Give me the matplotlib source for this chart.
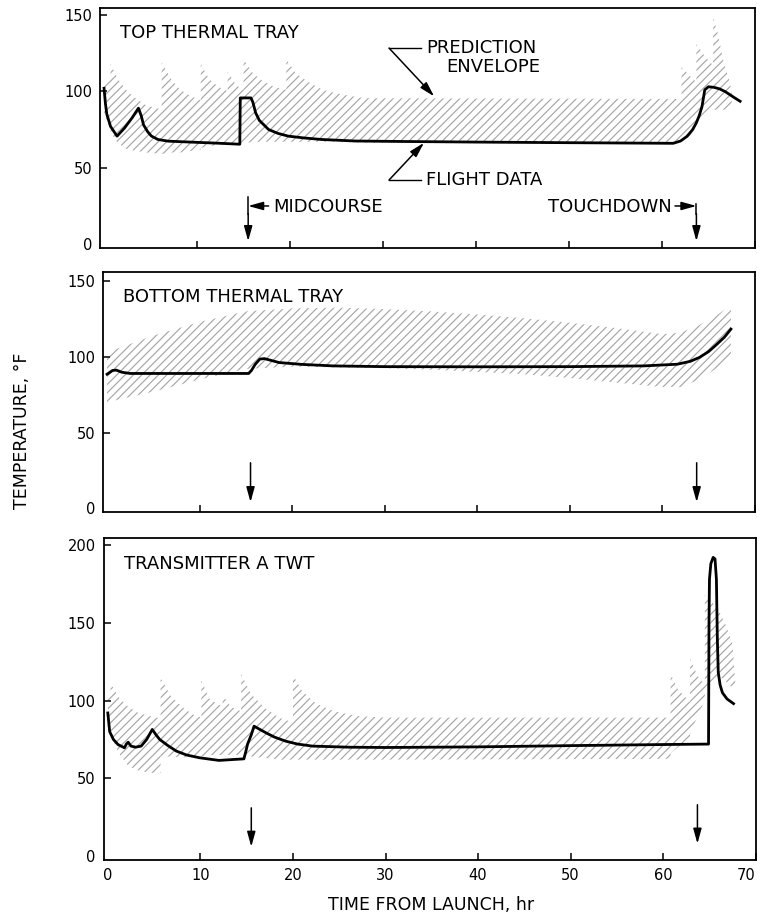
"""Thermal trays and TWT: flight data against prediction envelope."""
import matplotlib
matplotlib.use('Agg')
import matplotlib.pyplot as plt

# --- top thermal tray ---
TOP_T = [0, 0.15, 0.3, 0.7, 1.4, 2.2, 3.0, 3.7, 4.0, 4.25, 4.7, 5.1, 5.8, 6.9, 8.5,
         10.5, 12.5, 14.6, 14.65, 15.8, 16.0, 16.3, 16.7, 17.7, 18.7, 19.8, 21.5, 23.4,
         27, 32, 40, 50, 61.2, 62.0, 62.7, 63.3, 63.7, 64.0, 64.3, 64.6, 65.0, 65.6,
         66.2, 66.8, 67.3, 67.8, 68.4]
TOP_V = [102, 92, 85, 77, 70.7, 76, 82.5, 89, 84, 78, 73.5, 70.7, 68.5, 67.4, 67,
         66.5, 66, 65.4, 95.7, 95.7, 93, 86, 81, 75, 72.5, 70.7, 69.5, 68.5,
         67.5, 67.2, 66.8, 66.4, 66, 67.5, 70.6, 75, 79.5, 84, 90, 101, 103, 102.6,
         101.6, 99.8, 97.8, 95.8, 93.5]
TOP_ENV_T = [0, 0.7, 0.7, 1.5, 2.5, 3.5, 4.5, 6.2, 6.2, 7.2, 8.2, 9.3, 10.4, 10.4, 11.3,
             12.3, 13.3, 13.3, 14.2, 15.0, 15.0, 16.0, 17.0, 18.3, 19.6, 19.6, 20.6, 22.0,
             23.5, 25.5, 28.0, 61.3, 62.1, 62.1, 63.0, 63.7, 63.7, 64.6, 65.5, 65.5,
             66.0, 66.6, 67.2, 67.5]
TOP_ENV_HI = [106, 108, 118, 108, 100, 95, 91, 88, 119, 108, 101, 97, 94, 118, 108,
              103, 100, 113, 104, 101, 121, 112, 107, 103, 101, 121, 112, 106,
              101, 98, 95.5, 95, 95, 116, 110, 106, 131, 123, 117, 148,
              138, 120, 108, 100]
TOP_ENV_LO = [85, 75, 73, 66, 62, 61, 60, 59, 59, 60, 60, 61, 62, 63, 64,
              65, 65, 65, 65, 66, 66, 67, 67, 67, 67, 67, 67, 67,
              67, 67, 66.5, 66, 67, 67.5, 71, 77, 77, 86, 88, 88,
              88, 88, 88, 90]

# --- bottom thermal tray ---
MID_T = [0, 0.6, 1.0, 1.6, 2.5, 8, 15.3, 15.6, 16.0, 16.5, 17.0, 18.6, 21, 24.4, 30,
         40, 50, 58, 61.6, 63, 64, 65, 65.9, 66.7, 67.4]
MID_V = [88.5, 91, 91.2, 89.8, 89, 89, 89, 91, 95, 98.5, 98.8, 96.2, 95, 94, 93.5,
         93.4, 93.5, 94, 95.1, 97, 99.6, 103.5, 108.4, 113, 118.3]
MID_ENV_T = [0, 5, 10, 15, 20, 25, 30, 35, 40, 45, 50, 55, 60, 62, 64, 66, 67.4]
MID_ENV_HI = [103, 114, 123, 130, 132, 132.5, 131.5, 130, 128, 125.5, 122.5, 119, 115,
              116, 121, 128, 134]
MID_ENV_LO = [70, 77, 85, 92, 93.5, 93, 92.5, 91.5, 90, 88.5, 86, 83, 80, 80, 85, 93, 100]

# --- transmitter A TWT ---
BOT_T = [0, 0.2, 0.6, 1.1, 1.8, 2.0, 2.2, 2.5, 3.0, 3.6, 4.2, 4.8, 5.2, 5.6, 6.5,
         7.4, 8.5, 9.9, 12.0, 14.7, 14.9, 15.1, 15.5, 15.8, 16.4, 17.1, 18.0, 19.2, 20.5,
         22.1, 26, 30, 40, 50, 60, 64.9, 64.95, 65.0, 65.15, 65.4, 65.6, 65.75, 65.85,
         65.95, 66.15, 66.4, 66.9, 67.6]
BOT_V = [92, 80, 75, 71.7, 69.6, 72, 73.2, 70.7, 70, 70.7, 75, 81.4, 78, 75, 71,
         67.5, 65, 63.2, 61.5, 62.5, 67, 72, 78, 83.5, 81.5, 79.2, 76.5, 73.9, 72,
         70.7, 70, 69.8, 70.2, 71, 71.7, 72, 150, 178, 188, 192, 191, 178, 140,
         118, 110, 105, 101, 98]
BOT_ENV_T = [0, 0.3, 0.3, 1.2, 2.2, 3.3, 4.5, 5.7, 5.7, 6.8, 8.0, 9.2, 10.1, 10.1, 11.0,
             12.4, 12.4, 13.3, 14.4, 14.4, 15.5, 17.0, 18.5, 20.0, 20.0, 21.0, 22.5, 24.5,
             27.0, 30.0, 60.6, 60.8, 60.8, 61.6, 62.9, 62.9, 63.7, 64.5, 64.5, 65.3,
             66.0, 66.8, 67.5, 67.8]
BOT_ENV_HI = [104, 106, 111, 102, 96, 92, 90, 88.5, 114.5, 103, 96, 91, 89, 113, 101,
              96, 103.5, 96, 93, 117, 104, 95, 89, 86, 116.5, 106, 98, 93,
              90, 89, 89, 89, 117, 107, 99, 127, 116, 110, 168, 163,
              158, 148, 136, 110]
BOT_ENV_LO = [84, 80, 78, 66, 58, 55, 53.5, 53.5, 64, 64, 63.5, 63.5, 64, 64, 65,
              65, 65, 65, 65, 65, 64, 63, 62, 62, 62, 62, 62, 62,
              62, 62, 62.5, 64, 66, 70, 76, 78, 90, 100, 105, 112,
              116, 112, 108, 108]

MIDCOURSE_HR = 15.5
TOUCHDOWN_HR = 63.7
HATCH_GRAY = '#a6a6a6'

plt.rcParams['font.family'] = ['DejaVu Sans']
plt.rcParams['hatch.linewidth'] = 0.85


def arrow(ax, xy_from, xy_to):
    ax.annotate('', xy=xy_to, xytext=xy_from,
                arrowprops=dict(arrowstyle='-|>,head_length=0.9,head_width=0.25',
                                color='k', lw=1.1, shrinkA=0, shrinkB=0))


def panel(ax, t, v, env_t, env_hi, env_lo, title, ymax, yticks, title_y):
    ax.fill_between(env_t, env_lo, env_hi, facecolor='none', edgecolor=HATCH_GRAY,
                    hatch='////', linewidth=0, zorder=1)
    ax.plot(t, v, color='k', lw=2.0, zorder=3)
    ax.set_xlim(-0.4, 70)
    ax.set_ylim(-2.5, ymax)
    ax.set_yticks(yticks)
    ax.set_xticks(range(0, 71, 10))
    ax.tick_params(direction='in', length=5, width=1.1, labelsize=10.5, pad=6)
    # no tick marks in the corner; keep their labels
    ax.xaxis.get_major_ticks()[0].tick1line.set_visible(False)
    ax.yaxis.get_major_ticks()[0].tick1line.set_visible(False)
    for s in ax.spines.values():
        s.set_linewidth(1.3)
    ax.text(1.7, title_y, title, fontsize=13, ha='left', va='center')


fig = plt.figure(figsize=(7.6, 9.24), dpi=100)
ax1 = fig.add_axes([0.132, 0.7316, 0.8614, 0.2597])
ax2 = fig.add_axes([0.136, 0.4459, 0.8574, 0.2597])
ax3 = fig.add_axes([0.137, 0.0693, 0.8574, 0.3485])

panel(ax1, TOP_T, TOP_V, TOP_ENV_T, TOP_ENV_HI, TOP_ENV_LO,
      'TOP THERMAL TRAY', 154.5, [0, 50, 100, 150], 138)
panel(ax2, MID_T, MID_V, MID_ENV_T, MID_ENV_HI, MID_ENV_LO,
      'BOTTOM THERMAL TRAY', 156, [0, 50, 100, 150], 139.5)
panel(ax3, BOT_T, BOT_V, BOT_ENV_T, BOT_ENV_HI, BOT_ENV_LO,
      'TRANSMITTER A TWT', 204.5, [0, 50, 100, 150, 200], 188)
ax1.tick_params(labelbottom=False)
ax2.tick_params(labelbottom=False)
fig.canvas.draw()
ax3.get_xticklabels()[-1].set_horizontalalignment('right')

# top panel callouts
ax1.text(34.6, 128.5, 'PREDICTION', fontsize=13, ha='left', va='center')
ax1.text(36.8, 115.8, 'ENVELOPE', fontsize=13, ha='left', va='center')
ax1.plot([34.1, 30.65], [128.3, 128.3], color='k', lw=1.0)
arrow(ax1, (30.65, 128.3), (35.5, 96.7))
ax1.text(34.6, 42, 'FLIGHT DATA', fontsize=13, ha='left', va='center')
ax1.plot([34.1, 30.65], [42, 42], color='k', lw=1.0)
arrow(ax1, (30.65, 42), (34.4, 66.3))

ax1.text(18.2, 24.6, 'MIDCOURSE', fontsize=13, ha='left', va='center')
ax1.plot([MIDCOURSE_HR, MIDCOURSE_HR], [31.0, 20], color='k', lw=1.1)
arrow(ax1, (MIDCOURSE_HR, 20), (MIDCOURSE_HR, 2))
arrow(ax1, (17.7, 25), (MIDCOURSE_HR, 25))
ax1.text(61.1, 24.6, 'TOUCHDOWN', fontsize=13, ha='right', va='center')
ax1.plot([TOUCHDOWN_HR, TOUCHDOWN_HR], [26.5, 20], color='k', lw=1.1)
arrow(ax1, (TOUCHDOWN_HR, 20), (TOUCHDOWN_HR, 2))
arrow(ax1, (61.4, 25), (TOUCHDOWN_HR, 25))

arrow(ax2, (MIDCOURSE_HR, 30), (MIDCOURSE_HR, 4))
arrow(ax2, (TOUCHDOWN_HR, 30), (TOUCHDOWN_HR, 4))
arrow(ax3, (MIDCOURSE_HR, 31), (MIDCOURSE_HR, 6))
arrow(ax3, (TOUCHDOWN_HR, 33), (TOUCHDOWN_HR, 8))

fig.text(0.029, 0.5335, 'TEMPERATURE, °F', rotation=90, fontsize=12.5,
         ha='center', va='center')
fig.text(0.567, 0.0206, 'TIME FROM LAUNCH, hr', fontsize=12.5,
         ha='center', va='center')

fig.savefig('out.png', dpi=100)
